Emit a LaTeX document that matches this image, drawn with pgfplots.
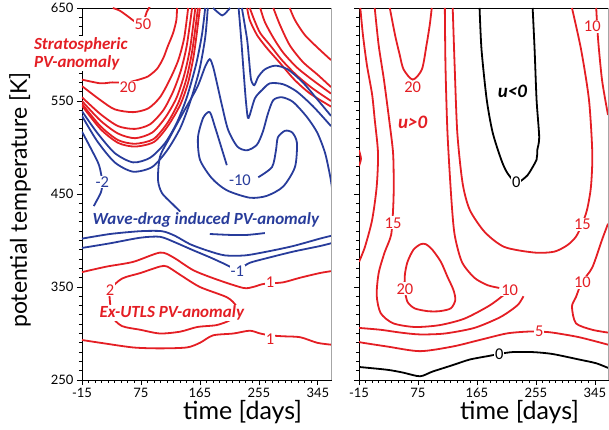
\documentclass[border=0pt]{standalone}
\usepackage{pgfplots}
\pgfplotsset{compat=1.18}
\usepackage{fontspec}
\setmainfont{Lato}
\newfontfamily\annot{Carlito}
\definecolor{cred}{RGB}{228,30,36}
\definecolor{cblue}{RGB}{40,60,155}

\tikzset{
  clab/.style={font=\annot\fontsize{16.5}{17}\selectfont, fill=white, inner sep=1pt},
  ann/.style={font=\annot\bfseries\itshape\fontsize{17}{18}\selectfont, fill=white, inner sep=1pt},
}
\pgfplotsset{
  panel/.style={
    scale only axis, width=249pt, height=372pt,
    xmin=-15, xmax=365, ymin=250, ymax=650,
    xtick={-15,75,165,255,345}, ytick={250,350,450,550,650},
    minor x tick num=8, minor y tick num=9,
    tick align=outside, tick pos=left,
    major tick length=5pt, minor tick length=3pt,
    tick style={black, line width=0.8pt},
    axis line style={line width=0.8pt},
    ticklabel style={font=\fontsize{13}{14}\selectfont},
    /pgf/number format/assume math mode=true,
    /pgf/number format/set thousands separator={},
    xlabel={time [days]},
    xlabel style={font=\fontsize{25}{28}\selectfont, at={(axis description cs:0.645,0)}, anchor=center, yshift=-32pt},
    clip mode=individual,
    every axis plot/.append style={line width=1.8pt, smooth, tension=0.45},
  },
}

\begin{document}
\begin{tikzpicture}
\path[use as bounding box] (0,0) rectangle (609pt,430pt);

% ---------------- PV anomaly ----------------
\begin{axis}[panel, at={(82pt,50pt)}, anchor=south west,
  ylabel={potential temperature [K]},
  ylabel style={font=\fontsize{23}{26}\selectfont, at={(axis description cs:-0.249,0.484)}, anchor=center}]

% stratospheric (positive) anomaly
\addplot[cred] coordinates {(32,650) (43,647) (55,641) (67,635) (78,635) (84,646) (89,652)};
\addplot[cred] coordinates {(-15,573) (13,569) (31,570) (55,570) (81,575) (89,578) (100,585) (109,596) (116,609) (124,623) (129,637) (130,650)};
\addplot[cred] coordinates {(-15,566) (13,551) (35,541) (63,538) (86,542) (104,554) (119,573) (132,594) (141,618) (147,650)};
\addplot[cred] coordinates {(-15,554) (13,536) (40,523) (66,520) (89,525) (109,540) (124,560) (136,583) (145,610) (153,650)};
\addplot[cred] coordinates {(-15,550) (13,529) (40,515) (66,510) (92,516) (112,532) (129,553) (141,578) (150,607) (158,650)};
\addplot[cred] coordinates {(-15,547) (13,523) (40,508) (66,504) (94,509) (115,526) (132,548) (144,573) (153,603) (162,650)};
\addplot[cred] coordinates {(-15,545) (13,520) (40,505) (66,501) (95,506) (116,523) (135,546) (147,570) (156,601) (165,650)};
\addplot[cred] coordinates {(302,650) (310,637) (325,621) (345,607) (365,594)};
\addplot[cred] coordinates {(277,650) (287,632) (302,610) (322,592) (345,578) (365,565)};
\addplot[cred] coordinates {(257,650) (264,635) (277,618) (292,602) (313,586) (336,573) (365,558)};
\addplot[cred] coordinates {(241,650) (248,637) (257,623) (272,610) (290,594) (312,578) (336,564) (365,550)};
\addplot[cred] coordinates {(237,650) (241,637) (252,621) (267,607) (287,591) (309,573) (333,558) (365,544)};

% wave-drag induced (negative) anomaly
\addplot[cblue] coordinates {(-15,539) (8,516) (35,494) (63,484) (89,489) (112,505) (130,527) (145,554) (159,589) (168,621) (173,650)};
\addplot[cblue] coordinates {(-15,534) (8,507) (35,484) (63,474) (92,479) (115,497) (135,521) (150,549) (164,583) (173,618) (177,650)};
\addplot[cblue] coordinates {(-15,517) (0,497) (11,481) (16,463) (14,452) (6,441) (3,437)};
\addplot[cblue] coordinates {(185,650) (188,648) (199,642) (206,646) (211,650)};
\addplot[cblue] coordinates {(135,431) (122,440) (107,451) (101,465) (104,490) (119,511) (139,537) (161,565) (173,587) (180,595) (185,587) (191,569) (199,544) (208,519) (222,501) (237,497) (252,503) (261,517) (269,537) (277,551) (290,554) (307,549) (328,533) (344,516) (356,494) (364,468) (367,454)};
\addplot[cblue] coordinates {(206,481) (199,497) (188,522) (180,538) (170,532) (162,511) (165,487) (183,467) (206,454) (241,446) (267,448) (292,458) (310,479) (313,505) (306,516) (295,518) (284,511) (281,497) (275,479) (254,468)};
\addplot[cblue] coordinates {(224,650) (228,616) (232,578) (235,551) (238,532) (241,535) (249,553) (260,562) (272,569) (292,568) (313,560) (338,544) (365,523)};
\addplot[cblue] coordinates {(229,650) (237,616) (240,594) (243,573) (248,567) (254,576) (264,584) (280,588) (299,584) (322,570) (345,551) (365,534)};
\addplot[cblue] coordinates {(-15,402) (28,407) (74,410) (107,410) (127,405) (150,396) (177,389) (203,384) (234,384) (267,388) (307,394) (348,402) (365,405)};
\addplot[cblue] coordinates {(-15,392) (28,397) (74,403) (104,404) (127,398) (153,390) (180,382) (202,375) (222,369) (241,376) (267,381) (307,388) (348,394) (365,397)};
\addplot[cblue] coordinates {(180,407) (211,406) (237,406) (264,408)};

% ex-UTLS anomaly
\addplot[cred] coordinates {(-15,366) (23,372) (63,377) (104,387) (124,382) (155,368) (191,358) (231,349) (246,350) (260,353) (272,354) (292,355) (318,360) (348,365) (365,367)};
\addplot[cred, smooth cycle] coordinates {(28,347) (46,359) (74,365) (104,372) (115,372) (135,363) (165,350) (206,339) (220,330) (222,322) (210,314) (190,309) (161,307) (135,302) (104,300) (74,304) (46,308) (31,318) (28,332)};
\addplot[cred] coordinates {(-15,293) (13,290) (63,285) (104,284) (145,285) (165,290) (185,298) (216,300) (241,303) (257,300) (272,298) (292,297) (318,296) (344,290) (365,288)};

\draw[gray!70, line width=1pt] (rel axis cs:1,0) -- (rel axis cs:1,1);
\node[clab, text=cred] at (axis cs:78,633) {50};
\node[clab, text=cred] at (axis cs:55,565) {20};
\node[clab, text=cblue] at (axis cs:16,463) {-2};
\node[clab, text=cblue] at (axis cs:226,465) {-10};
\node[clab, text=cblue] at (axis cs:222,367) {-1};
\node[clab, text=cred] at (axis cs:28,347) {2};
\node[clab, text=cred] at (axis cs:272,355) {1};
\node[clab, text=cred] at (axis cs:272,294) {1};
\node[ann, text=cred, align=left, anchor=north west] at (axis cs:-90,620) {Stratospheric\\PV-anomaly};
\node[ann, text=cblue] at (axis cs:174,422) {Wave-drag induced PV-anomaly};
\node[ann, text=cred] at (axis cs:122,322) {Ex-UTLS PV-anomaly};
\end{axis}

% ---------------- zonal wind ----------------
\begin{axis}[panel, at={(359pt,50pt)}, anchor=south west, yticklabels={}]
\addplot[cred] coordinates {(-13,650) (-9,621) (-3,589) (5,557) (9,530) (14,494) (12,458) (5,422) (-6,393) (-15,377)};
\addplot[cred] coordinates {(-15,497) (-12,488) (-15,480)};
\addplot[cred] coordinates {(9,650) (15,610) (23,573) (31,530) (37,494) (38,458) (37,433) (34,406) (24,387) (15,365) (12,341) (18,322) (37,311) (70,307) (108,309) (146,316) (184,330) (207,342)};
\addplot[cred] coordinates {(-15,306) (18,304) (48,301) (78,299) (116,300) (161,306) (199,317) (219,326) (229,332) (236,340)};
\addplot[cred] coordinates {(32,650) (40,621) (47,600) (53,584) (67,573) (81,584) (88,610) (93,632) (96,650)};
\addplot[cred, smooth cycle] coordinates {(55,363) (59,377) (68,390) (79,396) (87,396) (97,390) (110,377) (120,361) (129,347) (132,336) (125,327) (108,324) (90,324) (70,327) (59,334) (55,347)};
\addplot[cred] coordinates {(116,650) (117,587) (120,516) (126,444) (131,406) (142,377) (161,360) (181,352) (199,349)};
\addplot[cred] coordinates {(128,650) (131,587) (135,516) (143,462) (154,433) (177,409) (207,393) (253,387) (283,388) (303,395) (316,404) (325,417) (333,433) (339,458) (341,494) (336,551) (324,605) (310,650)};
\addplot[cred] coordinates {(347,650) (350,615) (356,572) (365,535)};
\addplot[cred] coordinates {(365,418) (356,401) (341,371) (325,355) (316,339) (310,329) (316,311) (341,304) (365,301)};
\addplot[cred] coordinates {(-15,291) (-9,290) (28,286) (78,281) (128,286) (169,293) (210,300) (241,302) (260,302) (280,301) (321,296) (365,288)};
\addplot[black] coordinates {(169,650) (172,605) (180,551) (189,516) (202,487) (211,473) (225,462) (239,468) (245,473) (256,487) (257,497) (260,511) (256,551) (253,605) (250,650)};
\addplot[black] coordinates {(-15,264) (28,261) (52,258) (78,254) (97,259) (128,266) (154,272) (184,276) (199,278) (219,280) (250,280) (280,278) (321,272) (347,268) (365,263)};

\draw[gray!70, line width=1pt] (rel axis cs:1,0) -- (rel axis cs:1,1);
\node[clab, text=cred] at (axis cs:67,565) {20};
\node[clab, text=cred] at (axis cs:341,630) {10};
\node[clab, text=cred] at (axis cs:37,419) {15};
\node[clab, text=cred] at (axis cs:326,417) {15};
\node[clab, text=cred] at (axis cs:55,348) {20};
\node[clab, text=cred] at (axis cs:215,347) {10};
\node[clab, text=cred] at (axis cs:326,355) {10};
\node[clab, text=cred] at (axis cs:260,302) {5};
\node[clab, text=black] at (axis cs:225,463) {0};
\node[clab, text=black] at (axis cs:199,278) {0};
\node[ann, text=cred, fill=none, font=\annot\bfseries\itshape\fontsize{19}{20}\selectfont] at (axis cs:67,527) {u>0};
\node[ann, text=black, fill=none, font=\annot\bfseries\itshape\fontsize{19}{20}\selectfont] at (axis cs:219,560) {u<0};
\end{axis}
\end{tikzpicture}
\end{document}
